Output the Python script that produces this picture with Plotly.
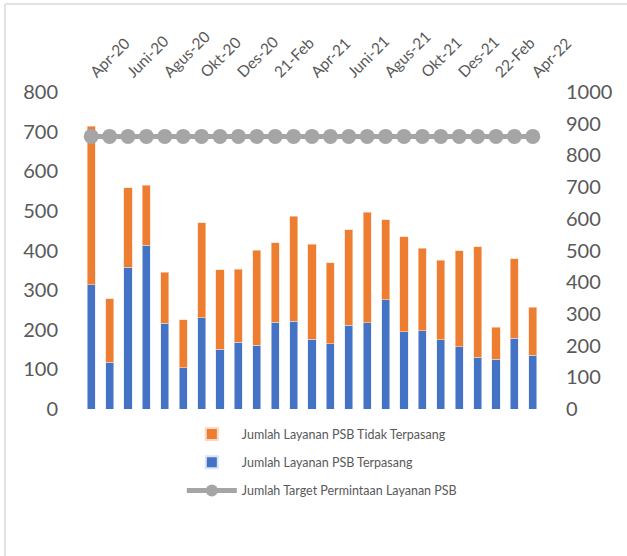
import plotly.graph_objects as go

months = ["Apr-20", "Mei-20", "Juni-20", "Juli-20", "Agus-20", "Sep-20", "Okt-20", "Nov-20",
          "Des-20", "Jan-21", "21-Feb", "Mar-21", "Apr-21", "Mei-21", "Juni-21", "Juli-21",
          "Agus-21", "Sep-21", "Okt-21", "Nov-21", "Des-21", "Jan-22", "22-Feb", "Mar-22", "Apr-22"]
tick_labels = months[::2]

terpasang = [313, 118, 358, 413, 216, 104, 230, 151, 168, 161, 219, 221, 176,
             165, 211, 218, 276, 195, 198, 175, 157, 130, 126, 178, 136]
total = [714, 278, 558, 565, 345, 225, 470, 351, 353, 401, 419, 486, 416,
         369, 452, 497, 477, 435, 406, 375, 399, 409, 206, 379, 257]
tidak_terpasang = [t - p for t, p in zip(total, terpasang)]
target = [860] * len(months)

FONT = "Lato"
GREY = "#595959"

fig = go.Figure()
fig.add_trace(go.Bar(x=months, y=terpasang, name="Jumlah Layanan PSB Terpasang",
                     marker=dict(color="#4472C4", line=dict(width=0.6, color="#DCE4F5")),
                     legendrank=2, legendgroup="b"))
fig.add_trace(go.Bar(x=months, y=tidak_terpasang, name="Jumlah Layanan PSB Tidak Terpasang",
                     marker=dict(color="#ED7D31", line=dict(width=0.6, color="#FBD9C2")),
                     legendrank=1, legendgroup="a"))
fig.add_trace(go.Scatter(x=months, y=target, name="Jumlah Target Permintaan Layanan PSB",
                         mode="lines+markers", yaxis="y2",
                         line=dict(color="#A5A5A5", width=5),
                         marker=dict(color="#A5A5A5", size=15, symbol="circle"),
                         legendrank=3, legendgroup="c"))

fig.update_layout(
    width=627, height=556,
    margin=dict(l=82, r=85, t=92, b=147),
    paper_bgcolor="white", plot_bgcolor="white",
    barmode="stack", bargap=0.56,
    font=dict(family=FONT, color=GREY),
    showlegend=True,
    legend=dict(orientation="v", x=0.217, xanchor="left", y=-0.033, yanchor="top",
                traceorder="grouped", tracegroupgap=9, itemwidth=50, itemsizing="constant",
                font=dict(size=12.5, color=GREY, family=FONT)),
    xaxis=dict(side="top", type="category", tickangle=-45, tickmode="array",
               tickvals=tick_labels, ticktext=tick_labels, showgrid=False,
               showline=False, ticks="", tickfont=dict(size=15.5, color=GREY),
               ticklabelstandoff=7,
               range=[-0.5, len(months) - 0.5], automargin=False),
    yaxis=dict(range=[0, 800], dtick=100, showgrid=False, showline=False, zeroline=False,
               tickfont=dict(size=20, color=GREY), ticklabelstandoff=23, automargin=False),
    yaxis2=dict(range=[0, 1000], dtick=100, overlaying="y", side="right", showgrid=False,
                showline=False, zeroline=False, tickfont=dict(size=20, color=GREY),
                ticklabelstandoff=23, automargin=False),
    shapes=[
        dict(type="line", xref="paper", yref="paper", x0=-0.1674, x1=1.2, y0=1.2776, y1=1.2776,
             line=dict(color="#D9D9D9", width=1.5)),
        dict(type="line", xref="paper", yref="paper", x0=-0.1674, x1=-0.1674, y0=1.2776, y1=-0.47,
             line=dict(color="#D9D9D9", width=1.5)),
    ],
)

fig.write_html("out.html", config={"displayModeBar": False},
               post_script="document.body.style.margin='0';")
